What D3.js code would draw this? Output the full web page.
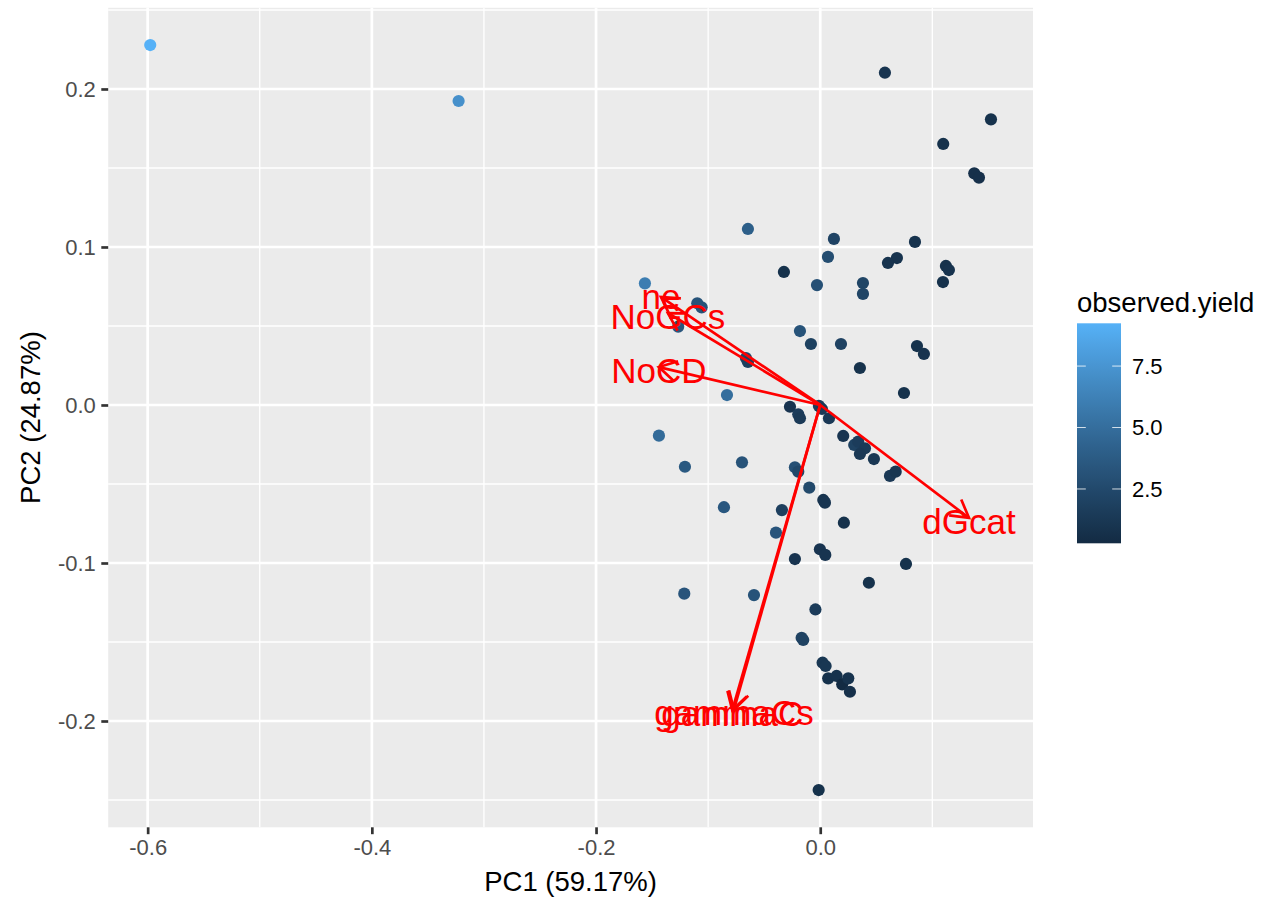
<!DOCTYPE html>
<html><head><meta charset="utf-8">
<script src="https://cdn.jsdelivr.net/npm/d3@7"></script>
<style>
body{margin:0;background:#fff}
svg{display:block}
text{font-family:"Liberation Sans",Arial,Helvetica,sans-serif}
</style>
</head><body>
<svg id="chart" width="1272" height="902"></svg>
<script>
// ---------- data ----------
const pc1 = [-0.5977,-0.3226,0.0577,0.1523,0.1097,0.1374,0.1416,-0.0645,0.0122,0.0845,
  0.0069,0.0684,0.0604,-0.0324,0.1121,0.1148,0.1095,0.0381,0.0381,-0.0029,
  -0.1564,-0.1097,-0.1058,-0.1267,-0.0181,-0.0083,0.0185,0.0863,0.0925,-0.0663,
  -0.0645,0.0354,0.0747,-0.0832,-0.0270,-0.0196,-0.0181,-0.0012,0.0015,0.0078,
  0.0205,0.0303,0.0339,0.0399,0.0354,0.0479,0.0622,0.0673,-0.1439,-0.1207,
  -0.0698,-0.0226,-0.0196,-0.0098,0.0027,0.0042,-0.0859,-0.0342,0.0211,-0.0395,
  -0.0003,0.0045,-0.0226,0.0765,0.0434,-0.1213,-0.0591,-0.0043,-0.0166,-0.0152,
  0.0021,0.0048,0.0071,0.0146,0.0196,0.0250,0.0265,-0.0014];
const pc2 = [0.2278,0.1924,0.2103,0.1808,0.1652,0.1466,0.1439,0.1114,0.1051,0.1032,
  0.0937,0.0930,0.0899,0.0842,0.0880,0.0854,0.0778,0.0772,0.0703,0.0759,
  0.0770,0.0644,0.0618,0.0496,0.0468,0.0386,0.0386,0.0373,0.0323,0.0297,
  0.0272,0.0234,0.0076,0.0063,-0.0011,-0.0059,-0.0084,-0.0006,-0.0025,-0.0084,
  -0.0196,-0.0253,-0.0232,-0.0274,-0.0310,-0.0342,-0.0449,-0.0422,-0.0194,-0.0391,
  -0.0363,-0.0394,-0.0422,-0.0523,-0.0601,-0.0618,-0.0647,-0.0665,-0.0745,-0.0808,
  -0.0913,-0.0949,-0.0975,-0.1006,-0.1125,-0.1194,-0.1203,-0.1294,-0.1473,-0.1487,
  -0.1631,-0.1652,-0.1730,-0.1715,-0.1768,-0.1730,-0.1815,-0.2437];
const observedYield = [9.24,7.2,1.0,0.8,0.8,0.7,0.7,4.0,2.1,0.9,
  2.8,0.9,0.9,0.8,0.8,0.9,0.8,2.2,2.2,3.0,
  6.0,3.2,3.2,3.4,3.2,1.9,2.0,0.8,0.9,2.2,
  1.8,0.8,0.8,5.0,1.0,1.6,1.4,1.6,1.4,1.3,
  1.0,2.0,1.6,1.4,1.3,1.2,1.3,1.1,4.8,3.6,
  3.2,3.0,2.4,2.5,0.9,1.0,3.5,1.8,0.8,3.3,
  1.0,1.0,1.0,0.8,0.8,3.3,3.2,1.5,2.0,2.0,
  1.2,1.2,0.8,0.8,0.29,0.9,0.7,0.8];

const loadingNames = ["ne","NoGCs","NoCD","dGcat","gammaC","gammaCs"];
const loadingPC1 = [-0.1421,-0.1359,-0.1439,0.1327,-0.0785,-0.0770];
const loadingPC2 = [0.0684,0.0582,0.0240,-0.0715,-0.1932,-0.1928];

const xTicks = [-0.6,-0.4,-0.2,0.0];
const xTickLabels = ["-0.6","-0.4","-0.2","0.0"];
const xMinor = [-0.5,-0.3,-0.1,0.1];
const yTicks = [-0.2,-0.1,0.0,0.1,0.2];
const yTickLabels = ["-0.2","-0.1","0.0","0.1","0.2"];
const yMinor = [-0.25,-0.15,-0.05,0.05,0.15,0.25];
const legendTicks = [2.5,5.0,7.5];
const legendTickLabels = ["2.5","5.0","7.5"];
const xTitle = "PC1 (59.17%)";
const yTitle = "PC2 (24.87%)";
const legendTitle = "observed.yield";
const lowColor = "#132B43", highColor = "#56B1F7";

// ---------- layout ----------
const panel = {left:108.2, right:1033, top:7.8, bottom:827.3};
const svg = d3.select("#chart");

const allX = pc1.concat(loadingPC1,[0]);
const allY = pc2.concat(loadingPC2,[0]);
function expand(ext){const d=(ext[1]-ext[0])*0.05;return [ext[0]-d,ext[1]+d];}
const x = d3.scaleLinear().domain(expand(d3.extent(allX))).range([panel.left,panel.right]);
const y = d3.scaleLinear().domain(expand(d3.extent(allY))).range([panel.bottom,panel.top]);
const yExt = d3.extent(observedYield);
const color = d3.scaleLinear().domain(yExt).range([lowColor,highColor]).interpolate(d3.interpolateLab);

// panel background
svg.append("rect").attr("x",panel.left).attr("y",panel.top)
  .attr("width",panel.right-panel.left).attr("height",panel.bottom-panel.top).attr("fill","#EBEBEB");

const grid = svg.append("g");
grid.selectAll(".xm").data(xMinor).join("line")
  .attr("x1",d=>x(d)).attr("x2",d=>x(d)).attr("y1",panel.top).attr("y2",panel.bottom)
  .attr("stroke","#fff").attr("stroke-width",1.34);
grid.selectAll(".ym").data(yMinor).join("line")
  .attr("y1",d=>y(d)).attr("y2",d=>y(d)).attr("x1",panel.left).attr("x2",panel.right)
  .attr("stroke","#fff").attr("stroke-width",1.34);
grid.selectAll(".xM").data(xTicks).join("line")
  .attr("x1",d=>x(d)).attr("x2",d=>x(d)).attr("y1",panel.top).attr("y2",panel.bottom)
  .attr("stroke","#fff").attr("stroke-width",2.68);
grid.selectAll(".yM").data(yTicks).join("line")
  .attr("y1",d=>y(d)).attr("y2",d=>y(d)).attr("x1",panel.left).attr("x2",panel.right)
  .attr("stroke","#fff").attr("stroke-width",2.68);

// axes
const xAxis = d3.axisBottom(x).tickValues(xTicks).tickFormat((d,i)=>xTickLabels[i])
  .tickSize(6.9).tickPadding(5.5);
const gx = svg.append("g").attr("transform",`translate(0,${panel.bottom})`).call(xAxis);
gx.select(".domain").remove();
gx.selectAll(".tick line").attr("stroke","#333333").attr("stroke-width",2.68);
gx.selectAll(".tick text").attr("fill","#4D4D4D").attr("font-size",22).attr("font-family",null);

const yAxis = d3.axisLeft(y).tickValues(yTicks).tickFormat((d,i)=>yTickLabels[i])
  .tickSize(6.9).tickPadding(5.5);
const gy = svg.append("g").attr("transform",`translate(${panel.left},0)`).call(yAxis);
gy.select(".domain").remove();
gy.selectAll(".tick line").attr("stroke","#333333").attr("stroke-width",2.68);
gy.selectAll(".tick text").attr("fill","#4D4D4D").attr("font-size",22).attr("font-family",null);

// axis titles
svg.append("text").attr("x",(panel.left+panel.right)/2).attr("y",891)
  .attr("text-anchor","middle").attr("font-size",27.5).attr("fill","#000").text(xTitle);
svg.append("text").attr("transform",`translate(40,${(panel.top+panel.bottom)/2}) rotate(-90)`)
  .attr("text-anchor","middle").attr("font-size",27.5).attr("fill","#000").text(yTitle);

// points
const pts = pc1.map((v,i)=>({x:v,y:pc2[i],c:observedYield[i]}));
svg.append("g").selectAll("circle").data(pts).join("circle")
  .attr("cx",d=>x(d.x)).attr("cy",d=>y(d.y)).attr("r",6.1)
  .attr("fill",d=>color(d.c));

// loadings arrows
const loads = loadingNames.map((n,i)=>({n,x:loadingPC1[i],y:loadingPC2[i]}));
const ag = svg.append("g").attr("stroke","#FF0000").attr("stroke-width",2.7)
  .attr("fill","none").attr("stroke-linecap","butt");
const headLen = 20, headAng = Math.PI/6;
loads.forEach(d=>{
  const x0=x(0), y0=y(0), x1=x(d.x), y1=y(d.y);
  ag.append("line").attr("x1",x0).attr("y1",y0).attr("x2",x1).attr("y2",y1);
  const a = Math.atan2(y1-y0,x1-x0);
  const p1=[x1-headLen*Math.cos(a-headAng), y1-headLen*Math.sin(a-headAng)];
  const p2=[x1-headLen*Math.cos(a+headAng), y1-headLen*Math.sin(a+headAng)];
  ag.append("path").attr("d",`M${p1[0]},${p1[1]}L${x1},${y1}L${p2[0]},${p2[1]}`);
});
// loadings labels
const labelSize = 35;
svg.append("g").selectAll("text").data(loads).join("text")
  .attr("x",d=>x(d.x))
  .attr("y",d=>y(d.y) + (/[A-Zbdfhklt]/.test(d.n) ? 0.72 : 0.52)*labelSize/2 + 3)
  .attr("text-anchor","middle").attr("font-size",labelSize).attr("fill","#FF0000")
  .text(d=>d.n);

// legend
const lg = {x:1077, w:44, top:323.3, bottom:543.3};
const defs = svg.append("defs");
const grad = defs.append("linearGradient").attr("id","cbar").attr("x1",0).attr("x2",0).attr("y1",1).attr("y2",0);
d3.range(0,1.0001,0.05).forEach(t=>{
  grad.append("stop").attr("offset",t).attr("stop-color",color(yExt[0]+t*(yExt[1]-yExt[0])));
});
svg.append("text").attr("x",lg.x).attr("y",312).attr("font-size",27.5).attr("fill","#000").text(legendTitle);
svg.append("rect").attr("x",lg.x).attr("y",lg.top).attr("width",lg.w).attr("height",lg.bottom-lg.top).attr("fill","url(#cbar)");
const ly = d3.scaleLinear().domain(yExt).range([lg.bottom,lg.top]);
const lt = svg.append("g");
legendTicks.forEach((v,i)=>{
  lt.append("line").attr("x1",lg.x).attr("x2",lg.x+8.8).attr("y1",ly(v)).attr("y2",ly(v)).attr("stroke","#fff").attr("stroke-opacity",0.8).attr("stroke-width",1);
  lt.append("line").attr("x1",lg.x+lg.w-8.8).attr("x2",lg.x+lg.w).attr("y1",ly(v)).attr("y2",ly(v)).attr("stroke","#fff").attr("stroke-opacity",0.8).attr("stroke-width",1);
  lt.append("text").attr("x",lg.x+lg.w+11).attr("y",ly(v)).attr("dy","0.36em")
    .attr("font-size",22).attr("fill","#000").text(legendTickLabels[i]);
});
</script>
</body></html>
